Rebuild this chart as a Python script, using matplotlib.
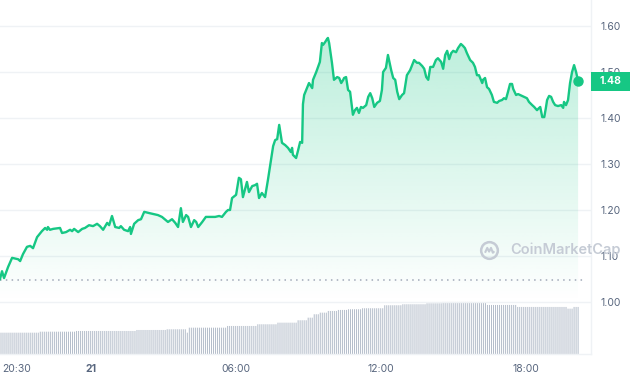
import numpy as np
import matplotlib
matplotlib.use('Agg')
import matplotlib.pyplot as plt
from matplotlib.path import Path
from matplotlib.patches import Rectangle, Polygon
import matplotlib.transforms as mtransforms

plt.rcParams['font.family'] = ['Inter', 'DejaVu Sans']

# ---------------- data ----------------
# time in minutes since 20:00 on the 20th
times = [14, 19, 24, 34, 44, 59, 64, 71, 81, 89, 96, 106, 118, 126, 131, 133, 138, 146, 163, 168,
         178, 188, 193, 198, 208, 218, 225, 235, 245, 255, 262, 270, 280, 285, 292, 300, 310, 314, 322, 332,
         337, 339, 347, 357, 364, 372,
         386, 406, 416, 431, 441, 449, 456, 463, 468, 476, 481, 488, 496, 501, 506, 516, 525, 535, 548, 558,
         565, 575, 580, 585, 590, 600, 607, 612, 617, 627, 632, 640, 647, 652, 657, 664, 672,
         679, 684, 692, 697, 702, 707, 714, 722, 729, 736, 739, 741, 749, 754, 759, 764, 766, 769, 774,
         781, 789, 791, 799, 808, 813, 816, 821, 826, 828, 831, 838, 843, 851, 856, 861, 866, 868, 873, 878,
         883, 890, 895, 900, 905, 910, 915, 923, 928, 933, 938, 943, 950, 957, 962, 965, 972, 977, 985, 990,
         995, 1000, 1005, 1012, 1017, 1024, 1032, 1037, 1042, 1049, 1054, 1062, 1067, 1072, 1077, 1082,
         1089, 1096, 1101, 1109, 1114, 1119, 1124, 1129, 1134, 1139, 1146, 1151, 1158, 1163, 1168, 1173,
         1181, 1188, 1193, 1198, 1203, 1211, 1213, 1218, 1223, 1228, 1235, 1240, 1248, 1253, 1260, 1265,
         1270, 1275, 1280, 1285, 1288, 1295, 1300, 1310, 1315, 1322, 1327, 1335, 1340, 1347, 1350, 1355,
         1360, 1365, 1369, 1372, 1377, 1382, 1387, 1392, 1399, 1407, 1412, 1414, 1419, 1424, 1429, 1434,
         1439, 1444, 1449]
prices = [1.050, 1.067, 1.052, 1.076, 1.096, 1.093, 1.089, 1.104, 1.120, 1.122, 1.117, 1.141, 1.154, 1.161,
          1.157, 1.163, 1.157, 1.159, 1.161, 1.150, 1.152, 1.157, 1.154, 1.159, 1.152, 1.159, 1.161, 1.167,
          1.165, 1.170, 1.165, 1.157, 1.172, 1.167, 1.187, 1.163, 1.161, 1.165, 1.157, 1.154, 1.163, 1.148,
          1.170, 1.178, 1.180, 1.196,
          1.193, 1.189, 1.185, 1.174, 1.180, 1.172, 1.163, 1.204, 1.174, 1.189, 1.185, 1.163, 1.178, 1.174,
          1.163, 1.174, 1.185, 1.185, 1.185, 1.187, 1.185, 1.196, 1.200, 1.200, 1.226, 1.233, 1.270, 1.267,
          1.228, 1.261, 1.239, 1.252, 1.254, 1.257, 1.226, 1.237, 1.228,
          1.265, 1.293, 1.339, 1.352, 1.354, 1.385, 1.346, 1.341, 1.335, 1.326, 1.335, 1.320, 1.313, 1.330,
          1.348, 1.346, 1.430, 1.450, 1.461,
          1.476, 1.465, 1.483, 1.500, 1.522, 1.563, 1.559, 1.565, 1.572, 1.574, 1.563, 1.520, 1.483, 1.489,
          1.487, 1.476, 1.483, 1.487, 1.489, 1.461,
          1.457, 1.407, 1.417, 1.422, 1.411, 1.424, 1.422, 1.428, 1.446, 1.454, 1.443, 1.424, 1.433, 1.437,
          1.461, 1.500, 1.509, 1.537, 1.504, 1.487,
          1.483, 1.457, 1.441, 1.450, 1.454, 1.493, 1.504, 1.515, 1.526, 1.520, 1.520, 1.513, 1.507, 1.489,
          1.483, 1.511,
          1.511, 1.526, 1.530, 1.522, 1.507, 1.537, 1.546, 1.528, 1.541, 1.546, 1.543, 1.552, 1.561, 1.557,
          1.552, 1.541,
          1.526, 1.520, 1.511, 1.493, 1.493, 1.476, 1.483, 1.487, 1.467, 1.463, 1.450, 1.435, 1.433, 1.437,
          1.439, 1.443,
          1.441, 1.457, 1.474, 1.474, 1.463, 1.450, 1.452, 1.448, 1.446, 1.443, 1.435, 1.428, 1.424, 1.417,
          1.420, 1.424,
          1.402, 1.402, 1.422, 1.439, 1.448, 1.446, 1.435, 1.428, 1.426, 1.428, 1.422, 1.435, 1.428, 1.439,
          1.476, 1.500,
          1.515, 1.500, 1.480]
open_price = 1.047

# volume (relative units), one bar every 5 minutes, given as step levels and run lengths
vol_levels = [21.3, 22.3, 23.0, 24.0, 24.7, 21.3, 26.3, 28.0, 29.7, 31.3, 33.7, 36.3, 39.7, 41.3,
              43.0, 44.0, 44.7, 45.7, 48.7, 49.7, 50.7, 52.0, 51.0, 49.0, 47.0, 45.3, 47.0]
vol_runs = [20, 18, 30, 15, 10, 1, 19, 15, 10, 10, 5, 3, 3, 4, 5, 5, 7, 11, 9, 12, 8, 15, 7, 15, 25, 3, 3]
vol_start = 14
vol_step = 5

y_ticks = [1.00, 1.10, 1.20, 1.30, 1.40, 1.50, 1.60]
x_tick_pos = [30, 240, 600, 960, 1320]
x_tick_labels = ['20:30', '21', '06:00', '12:00', '18:00']

# ---------------- figure ----------------
GREEN = '#16c784'
GRID = '#eff2f5'
TXT = '#58667e'

volume = np.repeat(vol_levels, vol_runs)
vol_times = vol_start + vol_step * np.arange(len(volume))

fig = plt.figure(figsize=(6.3, 3.8), dpi=100)
pos = [0.0, 26 / 380, 591 / 630, 354 / 380]
ax_v = fig.add_axes(pos)
ax = fig.add_axes(pos, sharex=ax_v)
ax_v.set_zorder(0)
ax.set_zorder(1)
ax.patch.set_visible(False)

bars = ax_v.bar(vol_times, volume, width=2.45, color='#b4bdca', linewidth=0)
for b in bars:
    b.set_snap(False)
ax_v.set_ylim(0, max(volume) * 6.8)
ax_v.axis('off')

ax.set_xlim(14, 1481)
ax.set_ylim(0.887, 1.6565)

# gradient fill under the line
poly = Polygon(np.column_stack([[times[0]] + times + [times[-1]],
                                [0.887] + prices + [0.887]]),
               closed=True, fc='none', ec='none')
ax.add_patch(poly)
n = 256
grad = np.zeros((n, 1, 4))
grad[..., 0] = 0x16 / 255
grad[..., 1] = 0xc7 / 255
grad[..., 2] = 0x84 / 255
grad[:, 0, 3] = np.linspace(0.0, 0.30, n)
im = ax.imshow(grad, origin='lower', aspect='auto', interpolation='bilinear',
               extent=[times[0], times[-1], 1.0, 1.6], zorder=2)
im.set_clip_path(poly)
ax.set_xlim(14, 1481)
ax.set_ylim(0.887, 1.6565)

ax.plot(times, prices, color=GREEN, lw=1.7, solid_joinstyle='round', zorder=4)
ax.plot(times[-1], prices[-1], 'o', ms=6.5, color=GREEN, zorder=5)

ax.axhline(open_price, xmin=0, xmax=0.99, color='#a1a9b8', lw=1.1, dashes=(1, 2.8), zorder=3)

# axes styling
for s in ['top', 'left']:
    ax.spines[s].set_visible(False)
for s in ['right', 'bottom']:
    ax.spines[s].set_color(GRID)
    ax.spines[s].set_linewidth(1)
ax.yaxis.tick_right()
ax.set_yticks(y_ticks)
ax.set_yticklabels([f'{v:.2f}' for v in y_ticks])
ax.yaxis.grid(True, color=GRID, lw=1)
ax.set_axisbelow(True)
ax.tick_params(axis='y', length=0, pad=7, labelsize=7.5, colors=TXT)
ax.set_xticks(x_tick_pos)
ax.set_xticklabels(x_tick_labels)
ax.tick_params(axis='x', length=0, pad=7, labelsize=7.5, colors=TXT)
xl = ax.get_xticklabels()
xl[1].set_fontweight('bold')
xl[0].set_transform(xl[0].get_transform() +
                    mtransforms.ScaledTranslation(10 / 100, 0, fig.dpi_scale_trans))

# current price badge
trans = mtransforms.blended_transform_factory(ax.transAxes, ax.transData)
last_price = prices[-1]
ax.add_patch(Rectangle((1.0, last_price - 0.0205), 39 / 591, 0.041, transform=trans,
                       fc=GREEN, ec='none', clip_on=False, zorder=6))
ax.text(1.0 + 19.5 / 591, last_price, f'{last_price:.2f}', transform=trans, ha='center',
        va='center', color='white', fontsize=7.5, fontweight='bold', zorder=7, clip_on=False)

# watermark
WM = '#c5cbd5'
ax.plot([489 / 591], [(354 - 250) / 354], marker='o', ms=12, mfc='none', mec=WM, mew=1.8,
        transform=ax.transAxes, zorder=8, clip_on=False)
wave = Path([(-0.6, -0.3), (-0.3, 0.35), (-0.05, -0.15), (0.2, 0.35), (0.45, -0.3), (0.65, -0.1)])
ax.plot([489 / 591], [(354 - 250) / 354], marker=wave, ms=7, mfc='none', mec=WM, mew=1.5,
        fillstyle='none', transform=ax.transAxes, zorder=8, clip_on=False)
fig.text(510 / 630, 1 - 250 / 380, 'CoinMarketCap', fontsize=10.5, fontweight='semibold',
         color=WM, va='center', ha='left', zorder=10)

fig.savefig('out.png', dpi=100, facecolor='white')
